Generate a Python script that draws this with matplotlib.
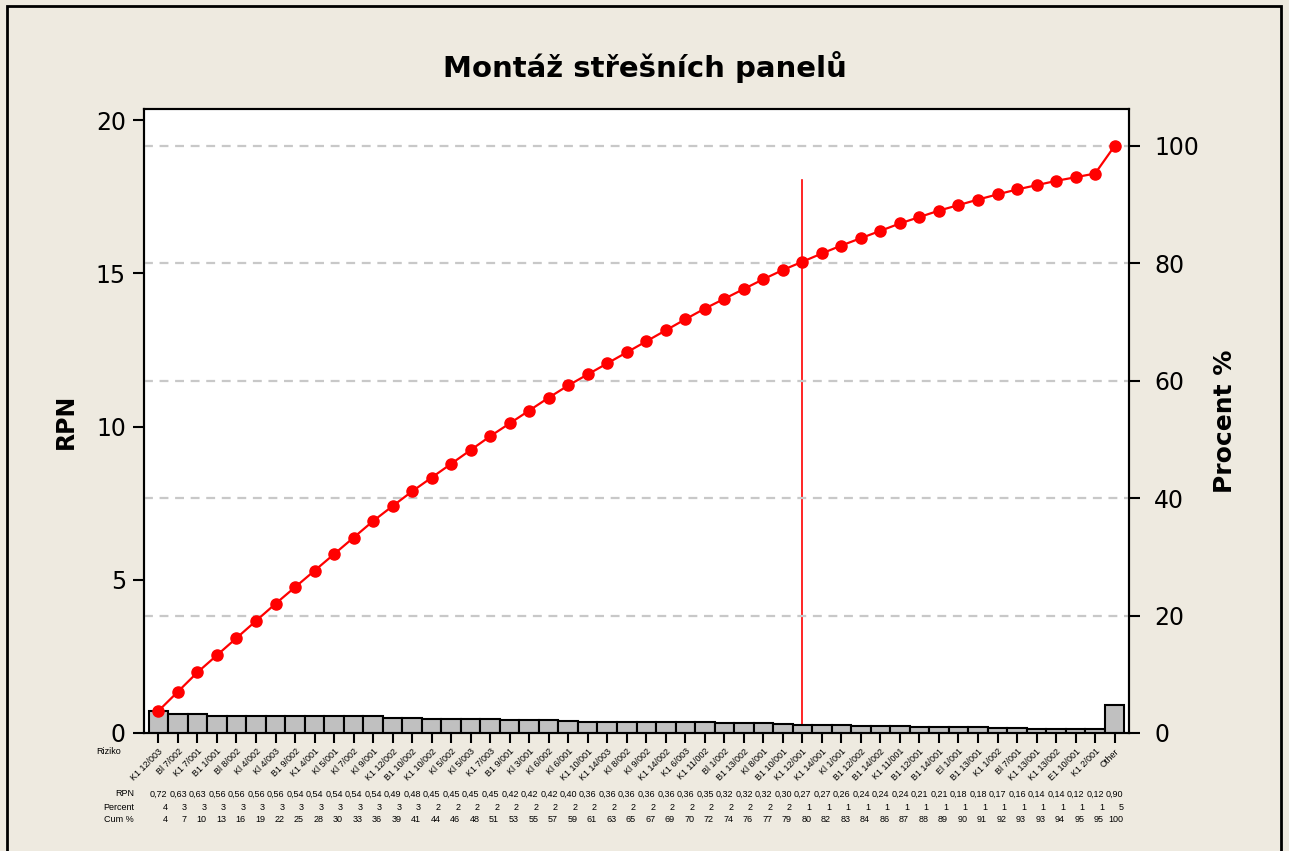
import matplotlib
matplotlib.use("Agg")
import matplotlib.pyplot as plt
import matplotlib.transforms as mtransforms
import numpy as np

# Pareto data
rizika = ["K1 12/003", "Bl 7/002", "K1 7/001", "B1 1/001", "Bl 8/002", "Kl 4/002", "Kl 4/003",
          "B1 9/002", "K1 4/001", "Kl 5/001", "Kl 7/002", "Kl 9/001", "K1 12/002", "B1 10/002",
          "K1 10/002", "Kl 5/002", "Kl 5/003", "K1 7/003", "B1 9/001", "Kl 3/001", "Kl 6/002",
          "Kl 6/001", "K1 10/001", "K1 14/003", "Kl 8/002", "Kl 9/002", "K1 14/002", "K1 6/003",
          "K1 11/002", "Bl 1/002", "B1 13/002", "Kl 8/001", "B1 10/001", "K1 12/001", "K1 14/001",
          "Kl 1/001", "B1 12/002", "B1 14/002", "K1 11/001", "B1 12/001", "B1 14/001", "El 1/001",
          "B1 13/001", "K1 1/002", "Bl 7/001", "K1 13/001", "K1 13/002", "E1 10/001", "K1 2/001",
          "Other"]
rpn = [0.72, 0.63, 0.63, 0.56, 0.56, 0.56, 0.56, 0.54, 0.54, 0.54, 0.54, 0.54, 0.49, 0.48,
       0.45, 0.45, 0.45, 0.45, 0.42, 0.42, 0.42, 0.40, 0.36, 0.36, 0.36, 0.36, 0.36, 0.36,
       0.35, 0.32, 0.32, 0.32, 0.30, 0.27, 0.27, 0.26, 0.24, 0.24, 0.24, 0.21, 0.21, 0.18,
       0.18, 0.17, 0.16, 0.14, 0.14, 0.12, 0.12, 0.90]
percent = [4, 3, 3, 3, 3, 3, 3, 3, 3, 3, 3, 3, 3, 3, 2, 2, 2, 2, 2, 2, 2, 2, 2, 2, 2,
           2, 2, 2, 2, 2, 2, 2, 2, 1, 1, 1, 1, 1, 1, 1, 1, 1, 1, 1, 1, 1, 1, 1, 1, 5]
cum_pct = [4, 7, 10, 13, 16, 19, 22, 25, 28, 30, 33, 36, 39, 41, 44, 46, 48, 51, 53, 55,
           57, 59, 61, 63, 65, 67, 69, 70, 72, 74, 76, 77, 79, 80, 82, 83, 84, 86, 87, 88,
           89, 90, 91, 92, 93, 93, 94, 95, 95, 100]
cut_index = 33      # 80 % reference line
cut_top = 18.05     # top of the red reference line (RPN units)

bg = "#EEEAE0"
small_font = "Liberation Sans"

fig = plt.figure(figsize=(12.89, 8.51), dpi=100, facecolor=bg)
ax = fig.add_axes([0.1117, 0.1387, 0.7642, 0.7332])
ax2 = ax.twinx()

x = np.arange(len(rpn))
total = sum(rpn)
cum_line = np.cumsum(rpn) / total * 100

ax.bar(x, rpn, width=1.0, color="#C0C0C0", edgecolor="black", linewidth=1.5, zorder=3)
ax.set_xlim(-0.74, len(rpn) - 1 + 0.74)
ax.set_ylim(0, 20.36)
ax2.set_ylim(0, 106.3)

for g in [20, 40, 60, 80, 100]:
    ax2.axhline(g, color="#C8C8C8", linestyle=(0, (4, 3)), linewidth=1.6, zorder=0)

ax2.plot(x, cum_line, color="red", marker="o", markersize=8, linewidth=1.6, zorder=4)
ax.plot([cut_index, cut_index], [0, cut_top], color="red", linewidth=1.2, zorder=2)

ax.set_zorder(ax2.get_zorder() - 1)
ax.patch.set_visible(True)
ax.patch.set_facecolor("white")
ax2.patch.set_visible(False)

ax.set_yticks([0, 5, 10, 15, 20])
ax2.set_yticks([0, 20, 40, 60, 80, 100])
ax.tick_params(axis="y", direction="out", length=8, width=1.5, labelsize=17, pad=5)
ax2.tick_params(axis="y", direction="out", length=8, width=1.5, labelsize=17, pad=10)
ax.set_xticks(x)
ax.set_xticklabels(rizika, rotation=45, ha="right", rotation_mode="anchor",
                   fontsize=6.5, family=small_font)
ax.tick_params(axis="x", direction="out", length=7, width=1.5, pad=3)

for a in (ax, ax2):
    for s in a.spines.values():
        s.set_linewidth(1.5)

ax.set_ylabel("RPN", fontsize=17, fontweight="bold", labelpad=13)
ax2.set_ylabel("Procent %", fontsize=18, fontweight="bold", labelpad=10)
fig.suptitle("Montáž střešních panelů", x=0.5, y=0.94, fontsize=21, fontweight="bold")

# table under the chart
trans = mtransforms.blended_transform_factory(ax.transData, fig.transFigure)
rows = [("RPN", [f"{v:.2f}".replace(".", ",") for v in rpn], 794),
        ("Percent", [str(v) for v in percent], 807),
        ("Cum %", [str(v) for v in cum_pct], 820)]
for label, vals, ypix in rows:
    yf = 1 - ypix / 851
    fig.text(134 / 1289, yf, label, ha="right", va="center", fontsize=6.5, family=small_font)
    for i, v in enumerate(vals):
        ax.text(i + 0.46, yf, v, transform=trans, ha="right", va="center",
                fontsize=6.5, family=small_font)
fig.text(96 / 1289, 1 - 752 / 851, "Riziko", ha="left", va="center", fontsize=6.5, family=small_font)

# outer frame
fig.patches.append(plt.Rectangle((7 / 1289, -0.05), 1274 / 1289, 1.05 - 6 / 851,
                                 transform=fig.transFigure, fill=False,
                                 edgecolor="black", linewidth=2))

fig.savefig("out.png", dpi=100, facecolor=bg)
